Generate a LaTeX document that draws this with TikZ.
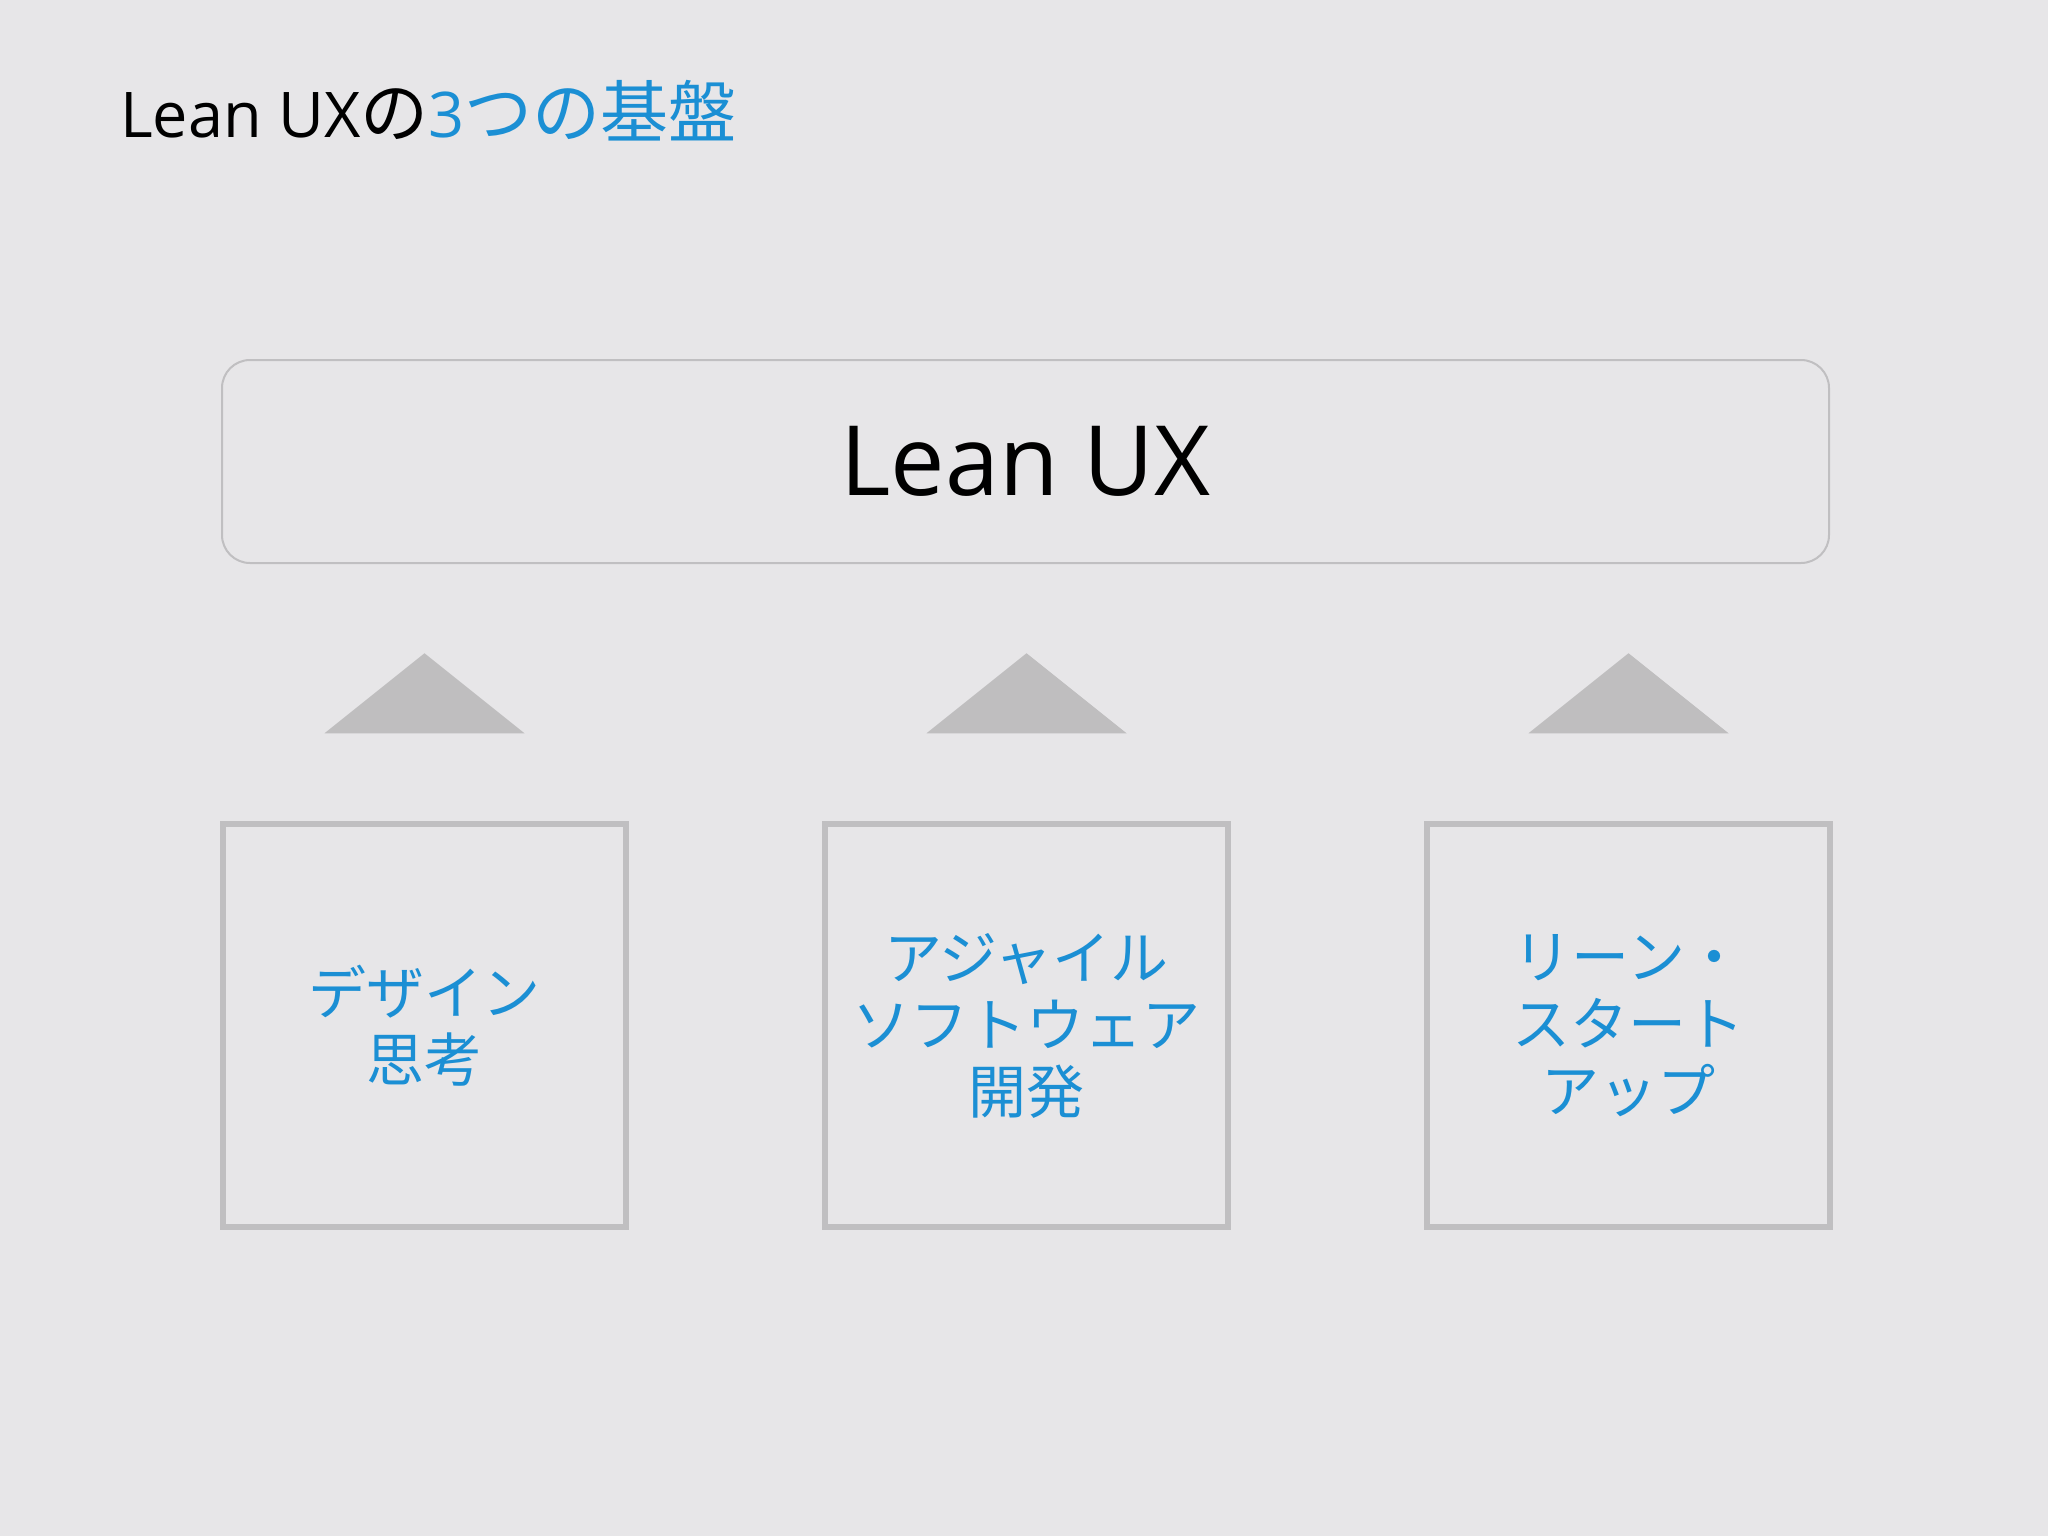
\documentclass[tikz,border=0pt]{standalone}
\usepackage{fontspec}
\setmainfont{Open Sans}
\newfontfamily\jpfont{Noto Sans CJK JP}
\definecolor{bgc}{HTML}{E7E6E8}
\definecolor{linec}{HTML}{C0BFC1}
\definecolor{tric}{HTML}{BFBEBF}
\definecolor{bluet}{HTML}{1B8FD4}
\tikzset{
  pillar/.style={draw=linec, line width=5.5pt, minimum width=403pt, minimum height=403pt,
    inner sep=0pt, align=center, text=bluet, font=\jpfont\fontsize{58}{67}\selectfont},
  roofbox/.style={draw=linec, line width=2pt, rounded corners=28pt, minimum width=1607pt,
    minimum height=203pt, inner sep=0pt, font=\fontsize{97}{120}\selectfont},
  tri/.style={fill=tric}
}
\begin{document}
\begin{tikzpicture}[x=1pt,y=-1pt]
\fill[bgc] (0,0) rectangle (2048,1536);
\useasboundingbox (0,0) rectangle (2048,1536);
\node[anchor=base west, inner sep=0pt, font=\fontsize{63}{80}\selectfont] (title) at (120,138)
  {Lean UX{\jpfont\fontsize{68}{80}\selectfont の}\textcolor{bluet}{3{\jpfont\fontsize{68}{80}\selectfont つの基盤}}};
\node[roofbox] (roof) at (1025.5,461.5) {Lean UX};
\node[pillar] (p1) at (424.5,1025.5) {デザイン\\思考};
\node[pillar] (p2) at (1026.5,1025.5) {アジャイル\\ソフトウェア\\開発};
\node[pillar] (p3) at (1628.5,1025.5) {リーン・\\スタート\\アップ};
\foreach \n in {p1,p2,p3}{
  \fill[tri] ([xshift=-100pt,yshift=88pt]\n.north) -- ([yshift=168pt]\n.north) -- ([xshift=100pt,yshift=88pt]\n.north) -- cycle;
}
\end{tikzpicture}
\end{document}
